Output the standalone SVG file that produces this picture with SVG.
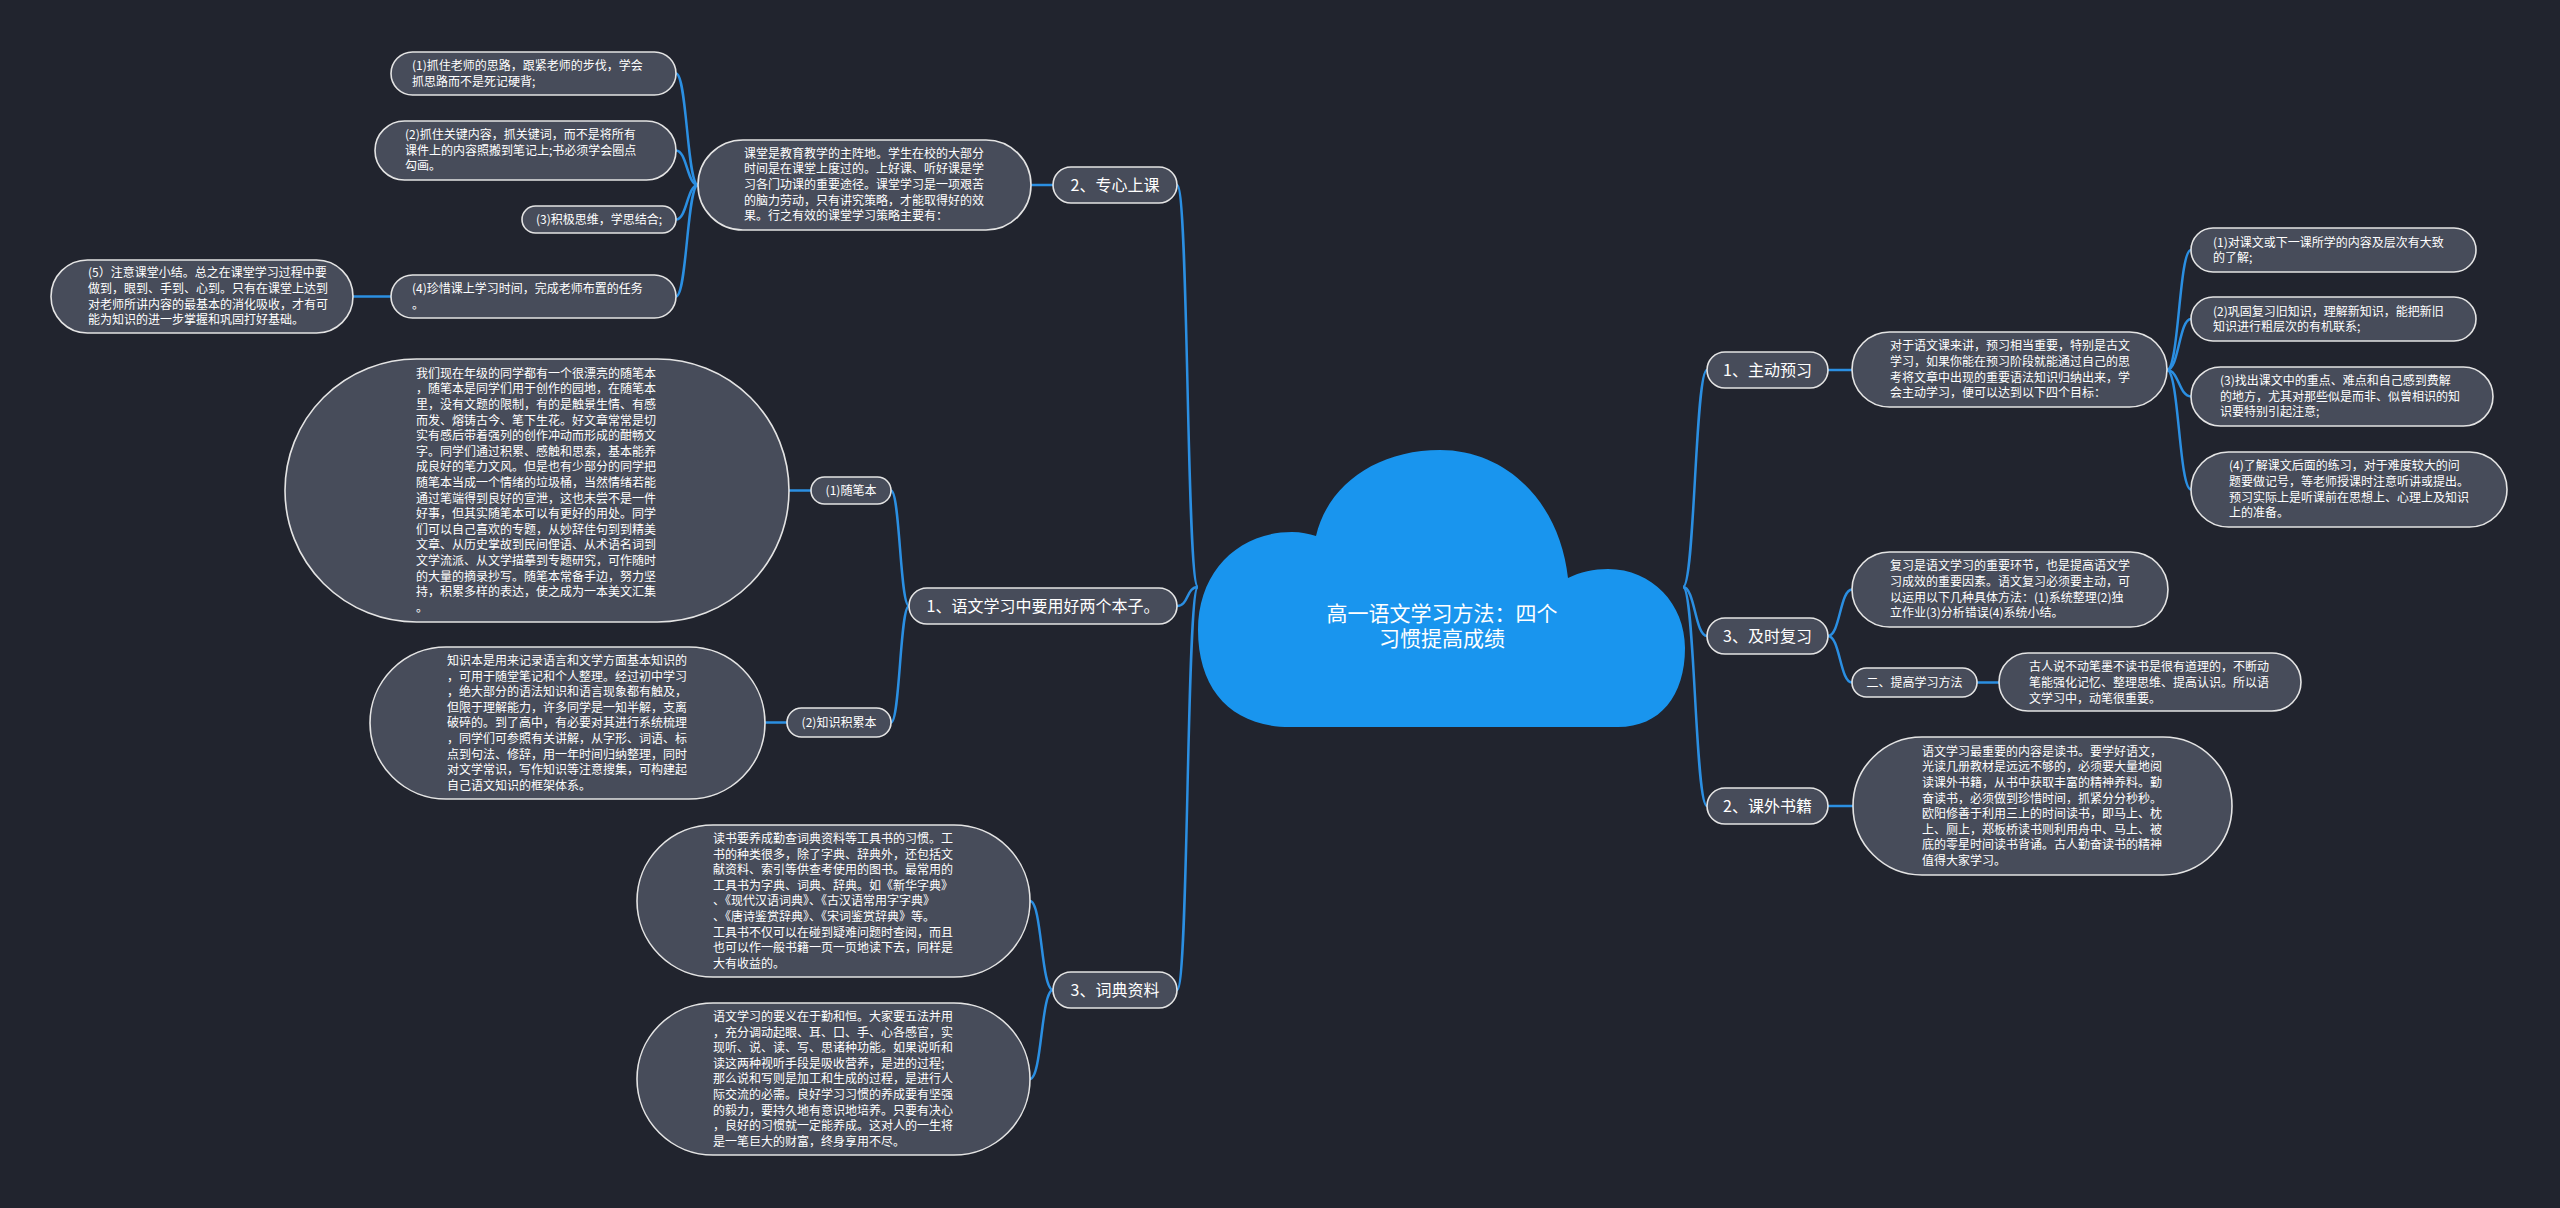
<svg xmlns="http://www.w3.org/2000/svg" width="2560" height="1208" viewBox="0 0 2560 1208">
<style>
.n rect{fill:#474c5a;stroke:#e4e4e4;stroke-width:1.6}
.t{font-family:"Noto Sans CJK SC","Noto Sans",sans-serif;font-size:12px;fill:#ffffff}
.t1{font-size:16px}
.t0{font-size:21px}
.m{text-anchor:middle}
#connectors path{fill:none;stroke:#2b8fe2;stroke-width:2.5}
</style>
<rect x="0" y="0" width="2560" height="1208" fill="#21242e"/>
<g id="connectors">
<path d="M1198 587 C1186 587 1189 185 1177 185"/>
<path d="M1198 587 C1186 587 1189 606 1177 606"/>
<path d="M1198 587 C1186 587 1189 990 1177 990"/>
<path d="M1683 587 C1695 587 1695 370 1707 370"/>
<path d="M1683 587 C1695 587 1695 636 1707 636"/>
<path d="M1683 587 C1695 587 1695 806 1707 806"/>
<path d="M1053 185 L1031 185"/>
<path d="M698 185 C687 185 687 73.5 676 73.5"/>
<path d="M698 185 C687 185 687 150.5 676 150.5"/>
<path d="M698 185 C687 185 687 219.5 676 219.5"/>
<path d="M698 185 C687 185 687 296.5 676 296.5"/>
<path d="M391 296.5 L353 296.5"/>
<path d="M909 606 C900 606 900 490.5 891 490.5"/>
<path d="M909 606 C900 606 900 722.5 891 722.5"/>
<path d="M811 490.5 L789 490.5"/>
<path d="M787 722.5 L765 722.5"/>
<path d="M1053 990 C1041 990 1042 901 1030 901"/>
<path d="M1053 990 C1041 990 1042 1079 1030 1079"/>
<path d="M1828 370 L1852 370"/>
<path d="M2167 370 C2179 370 2179 250 2191 250"/>
<path d="M2167 370 C2179 370 2179 319 2191 319"/>
<path d="M2167 370 C2179 370 2179 396.5 2191 396.5"/>
<path d="M2167 370 C2179 370 2179 489.5 2191 489.5"/>
<path d="M1828 636 C1840 636 1840 589.5 1852 589.5"/>
<path d="M1828 636 C1840 636 1840 682.5 1852 682.5"/>
<path d="M1977 682.5 L1999 682.5"/>
<path d="M1828 806 L1853 806"/>
</g>
<g id="root">
<path d="M1290 727 C1232 727 1198 690 1198 630 C1198 572 1238 532 1292 532 C1301 532 1309 534 1316 536 C1328 484 1378 450 1440 450 C1508 450 1560 504 1568 578 C1580 572 1594 569 1608 569 C1652 569 1685 604 1685 648 C1685 696 1660 727 1618 727 Z" fill="#1995ee"/>
<text class="t t0 m" x="1442" y="621">高一语文学习方法：四个</text>
<text class="t t0 m" x="1442" y="646">习惯提高成绩</text>
</g>
<g id="n-zhuanxin" class="n"><rect x="1053" y="167" width="124" height="36" rx="18"/><text class="t t1 m" x="1115" y="190.7">2、专心上课</text></g>
<g id="n-benzi" class="n"><rect x="909" y="588" width="268" height="36" rx="18"/><text class="t t1 m" x="1043" y="611.7">1、语文学习中要用好两个本子。</text></g>
<g id="n-cidian" class="n"><rect x="1053" y="972" width="124" height="36" rx="18"/><text class="t t1 m" x="1115" y="995.7">3、词典资料</text></g>
<g id="n-yuxi" class="n"><rect x="1707" y="352" width="121" height="36" rx="18"/><text class="t t1 m" x="1767.5" y="375.7">1、主动预习</text></g>
<g id="n-fuxi" class="n"><rect x="1707" y="618" width="121" height="36" rx="18"/><text class="t t1 m" x="1767.5" y="641.7">3、及时复习</text></g>
<g id="n-shuji" class="n"><rect x="1707" y="788" width="121" height="36" rx="18"/><text class="t t1 m" x="1767.5" y="811.7">2、课外书籍</text></g>

<g id="n-ketang" class="n"><rect x="698" y="140" width="333" height="90" rx="45"/>
<text class="t" x="744" y="157.8">课堂是教育教学的主阵地。学生在校的大部分</text>
<text class="t" x="744" y="173.4">时间是在课堂上度过的。上好课、听好课是学</text>
<text class="t" x="744" y="189">习各门功课的重要途径。课堂学习是一项艰苦</text>
<text class="t" x="744" y="204.6">的脑力劳动，只有讲究策略，才能取得好的效</text>
<text class="t" x="744" y="220.2">果。行之有效的课堂学习策略主要有：</text></g>
<g id="n-k1" class="n"><rect x="391" y="52" width="285" height="43" rx="21.5"/>
<text class="t" x="412" y="70">(1)抓住老师的思路，跟紧老师的步伐，学会</text>
<text class="t" x="412" y="85.6">抓思路而不是死记硬背;</text></g>
<g id="n-k2" class="n"><rect x="375" y="121" width="301" height="59" rx="29.5"/>
<text class="t" x="405" y="139.2">(2)抓住关键内容，抓关键词，而不是将所有</text>
<text class="t" x="405" y="154.8">课件上的内容照搬到笔记上;书必须学会圈点</text>
<text class="t" x="405" y="170.4">勾画。</text></g>
<g id="n-k3" class="n"><rect x="522" y="206" width="154" height="27" rx="13.5"/>
<text class="t" x="536" y="223.8">(3)积极思维，学思结合;</text></g>
<g id="n-k4" class="n"><rect x="391" y="275" width="285" height="43" rx="21.5"/>
<text class="t" x="412" y="293">(4)珍惜课上学习时间，完成老师布置的任务</text>
<text class="t" x="412" y="308.6">。</text></g>
<g id="n-k5" class="n"><rect x="51" y="260" width="302" height="73" rx="36.5"/>
<text class="t" x="88" y="277.4">(5）注意课堂小结。总之在课堂学习过程中要</text>
<text class="t" x="88" y="293">做到，眼到、手到、心到。只有在课堂上达到</text>
<text class="t" x="88" y="308.6">对老师所讲内容的最基本的消化吸收，才有可</text>
<text class="t" x="88" y="324.2">能为知识的进一步掌握和巩固打好基础。</text></g>

<g id="n-suibi" class="n"><rect x="811" y="477" width="80" height="27" rx="13.5"/>
<text class="t m" x="851" y="494.8">(1)随笔本</text></g>
<g id="n-suibi-d" class="n"><rect x="285" y="359" width="504" height="263" rx="131.5"/>
<text class="t" x="416" y="377.8">我们现在年级的同学都有一个很漂亮的随笔本</text>
<text class="t" x="416" y="393.4">，随笔本是同学们用于创作的园地，在随笔本</text>
<text class="t" x="416" y="409">里，没有文题的限制，有的是触景生情、有感</text>
<text class="t" x="416" y="424.6">而发、熔铸古今、笔下生花。好文章常常是切</text>
<text class="t" x="416" y="440.2">实有感后带着强列的创作冲动而形成的酣畅文</text>
<text class="t" x="416" y="455.8">字。同学们通过积累、感触和思索，基本能养</text>
<text class="t" x="416" y="471.4">成良好的笔力文风。但是也有少部分的同学把</text>
<text class="t" x="416" y="487">随笔本当成一个情绪的垃圾桶，当然情绪若能</text>
<text class="t" x="416" y="502.6">通过笔端得到良好的宣泄，这也未尝不是一件</text>
<text class="t" x="416" y="518.2">好事，但其实随笔本可以有更好的用处。同学</text>
<text class="t" x="416" y="533.8">们可以自己喜欢的专题，从妙辞佳句到到精美</text>
<text class="t" x="416" y="549.4">文章、从历史掌故到民间俚语、从术语名词到</text>
<text class="t" x="416" y="565">文学流派、从文学描摹到专题研究，可作随时</text>
<text class="t" x="416" y="580.6">的大量的摘录抄写。随笔本常备手边，努力坚</text>
<text class="t" x="416" y="596.2">持，积累多样的表达，使之成为一本美文汇集</text>
<text class="t" x="416" y="611.8">。</text></g>
<g id="n-zhishi" class="n"><rect x="787" y="708" width="104" height="29" rx="14.5"/>
<text class="t m" x="839" y="726.8">(2)知识积累本</text></g>
<g id="n-zhishi-d" class="n"><rect x="370" y="647" width="395" height="152" rx="76"/>
<text class="t" x="447" y="664.9">知识本是用来记录语言和文学方面基本知识的</text>
<text class="t" x="447" y="680.5">，可用于随堂笔记和个人整理。经过初中学习</text>
<text class="t" x="447" y="696.1">，绝大部分的语法知识和语言现象都有触及，</text>
<text class="t" x="447" y="711.7">但限于理解能力，许多同学是一知半解，支离</text>
<text class="t" x="447" y="727.3">破碎的。到了高中，有必要对其进行系统梳理</text>
<text class="t" x="447" y="742.9">，同学们可参照有关讲解，从字形、词语、标</text>
<text class="t" x="447" y="758.5">点到句法、修辞，用一年时间归纳整理，同时</text>
<text class="t" x="447" y="774.1">对文学常识，写作知识等注意搜集，可构建起</text>
<text class="t" x="447" y="789.7">自己语文知识的框架体系。</text></g>

<g id="n-c1" class="n"><rect x="637" y="825" width="393" height="152" rx="76"/>
<text class="t" x="713" y="842.9">读书要养成勤查词典资料等工具书的习惯。工</text>
<text class="t" x="713" y="858.5">书的种类很多，除了字典、辞典外，还包括文</text>
<text class="t" x="713" y="874.1">献资料、索引等供查考使用的图书。最常用的</text>
<text class="t" x="713" y="889.7">工具书为字典、词典、辞典。如《新华字典》</text>
<text class="t" x="713" y="905.3">、《现代汉语词典》、《古汉语常用字字典》</text>
<text class="t" x="713" y="920.9">、《唐诗鉴赏辞典》、《宋词鉴赏辞典》等。</text>
<text class="t" x="713" y="936.5">工具书不仅可以在碰到疑难问题时查阅，而且</text>
<text class="t" x="713" y="952.1">也可以作一般书籍一页一页地读下去，同样是</text>
<text class="t" x="713" y="967.7">大有收益的。</text></g>
<g id="n-c2" class="n"><rect x="637" y="1003" width="393" height="152" rx="76"/>
<text class="t" x="713" y="1020.9">语文学习的要义在于勤和恒。大家要五法并用</text>
<text class="t" x="713" y="1036.5">，充分调动起眼、耳、口、手、心各感官，实</text>
<text class="t" x="713" y="1052.1">现听、说、读、写、思诸种功能。如果说听和</text>
<text class="t" x="713" y="1067.7">读这两种视听手段是吸收营养，是进的过程;</text>
<text class="t" x="713" y="1083.3">那么说和写则是加工和生成的过程，是进行人</text>
<text class="t" x="713" y="1098.9">际交流的必需。良好学习习惯的养成要有坚强</text>
<text class="t" x="713" y="1114.5">的毅力，要持久地有意识地培养。只要有决心</text>
<text class="t" x="713" y="1130.1">，良好的习惯就一定能养成。这对人的一生将</text>
<text class="t" x="713" y="1145.7">是一笔巨大的财富，终身享用不尽。</text></g>

<g id="n-ra" class="n"><rect x="1852" y="332" width="315" height="75" rx="37.5"/>
<text class="t" x="1890" y="350.4">对于语文课来讲，预习相当重要，特别是古文</text>
<text class="t" x="1890" y="366">学习，如果你能在预习阶段就能通过自己的思</text>
<text class="t" x="1890" y="381.6">考将文章中出现的重要语法知识归纳出来，学</text>
<text class="t" x="1890" y="397.2">会主动学习，便可以达到以下四个目标：</text></g>
<g id="n-ra1" class="n"><rect x="2191" y="228" width="285" height="44" rx="22"/>
<text class="t" x="2213" y="246.5">(1)对课文或下一课所学的内容及层次有大致</text>
<text class="t" x="2213" y="262.1">的了解;</text></g>
<g id="n-ra2" class="n"><rect x="2191" y="297" width="285" height="44" rx="22"/>
<text class="t" x="2213" y="315.5">(2)巩固复习旧知识，理解新知识，能把新旧</text>
<text class="t" x="2213" y="331.1">知识进行粗层次的有机联系;</text></g>
<g id="n-ra3" class="n"><rect x="2191" y="367" width="302" height="59" rx="29.5"/>
<text class="t" x="2220" y="385.2">(3)找出课文中的重点、难点和自己感到费解</text>
<text class="t" x="2220" y="400.8">的地方，尤其对那些似是而非、似曾相识的知</text>
<text class="t" x="2220" y="416.4">识要特别引起注意;</text></g>
<g id="n-ra4" class="n"><rect x="2191" y="452" width="316" height="75" rx="37.5"/>
<text class="t" x="2229" y="470.4">(4)了解课文后面的练习，对于难度较大的问</text>
<text class="t" x="2229" y="486">题要做记号，等老师授课时注意听讲或提出。</text>
<text class="t" x="2229" y="501.6">预习实际上是听课前在思想上、心理上及知识</text>
<text class="t" x="2229" y="517.2">上的准备。</text></g>

<g id="n-rb" class="n"><rect x="1852" y="552" width="316" height="75" rx="37.5"/>
<text class="t" x="1890" y="570.4">复习是语文学习的重要环节，也是提高语文学</text>
<text class="t" x="1890" y="586">习成效的重要因素。语文复习必须要主动，可</text>
<text class="t" x="1890" y="601.6">以运用以下几种具体方法：(1)系统整理(2)独</text>
<text class="t" x="1890" y="617.2">立作业(3)分析错误(4)系统小结。</text></g>
<g id="n-rb2" class="n"><rect x="1852" y="668" width="125" height="29" rx="14.5"/>
<text class="t m" x="1914.5" y="686.8">二、提高学习方法</text></g>
<g id="n-rb2d" class="n"><rect x="1999" y="653" width="302" height="58" rx="29"/>
<text class="t" x="2029" y="671.3">古人说不动笔墨不读书是很有道理的，不断动</text>
<text class="t" x="2029" y="687.3">笔能强化记忆、整理思维、提高认识。所以语</text>
<text class="t" x="2029" y="703.3">文学习中，动笔很重要。</text></g>

<g id="n-rc" class="n"><rect x="1853" y="737" width="379" height="138" rx="69"/>
<text class="t" x="1922" y="755.7">语文学习最重要的内容是读书。要学好语文，</text>
<text class="t" x="1922" y="771.3">光读几册教材是远远不够的，必须要大量地阅</text>
<text class="t" x="1922" y="786.9">读课外书籍，从书中获取丰富的精神养料。勤</text>
<text class="t" x="1922" y="802.5">奋读书，必须做到珍惜时间，抓紧分分秒秒。</text>
<text class="t" x="1922" y="818.1">欧阳修善于利用三上的时间读书，即马上、枕</text>
<text class="t" x="1922" y="833.7">上、厕上，郑板桥读书则利用舟中、马上、被</text>
<text class="t" x="1922" y="849.3">底的零星时间读书背诵。古人勤奋读书的精神</text>
<text class="t" x="1922" y="864.9">值得大家学习。</text></g>
</svg>
